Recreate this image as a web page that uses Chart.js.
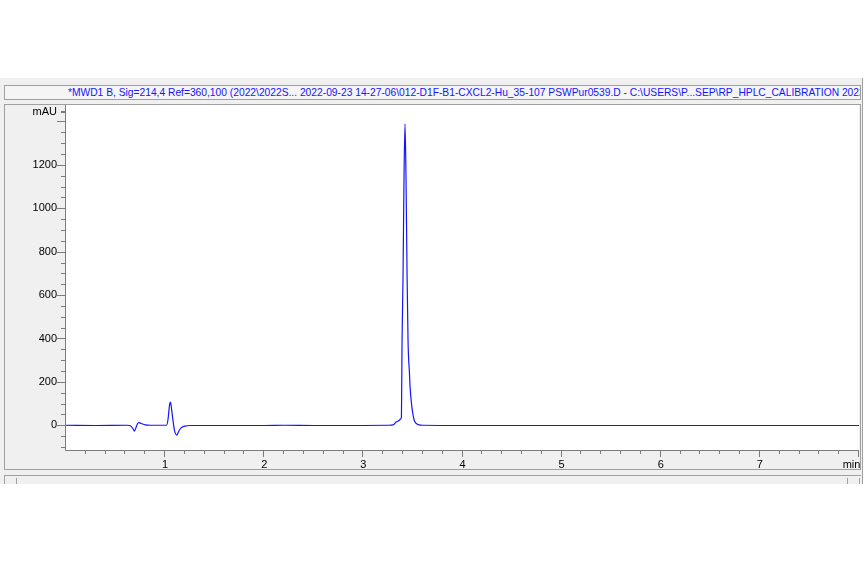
<!DOCTYPE html>
<html>
<head>
<meta charset="utf-8">
<script src="https://cdn.jsdelivr.net/npm/chart.js@4.4.0/dist/chart.umd.min.js"></script>
<style>
  body { margin: 0; background: #fff; width: 868px; height: 564px; overflow: hidden; position: relative;
         font-family: "Liberation Sans", Arial, sans-serif; }
  #frame { position: absolute; left: 0; top: 78px; width: 862px; height: 406px; background: #f0f0f0;
           border-right: 1px solid #a0a0a0; overflow: hidden; }
  #titlebox { position: absolute; left: 4px; top: 7px; width: 855px; height: 13px; background: #f5f5f5;
              border: 1px solid #a0a0a0; overflow: hidden; }
  #title { position: absolute; left: 63px; top: 0; white-space: nowrap; color: #1414ff; font-size: 10.25px; line-height: 14px; }
  #plotpanel { position: absolute; left: 4px; top: 26px; width: 855px; height: 364px; border: 1px solid #a0a0a0; }
  #nextpanel { position: absolute; left: 4px; top: 397px; width: 856px; height: 20px;
               border-top: 1px solid #a0a0a0; border-left: 1px solid #a0a0a0; }
  #nextpanel .v { position: absolute; top: 2px; width: 1px; height: 20px; background: #a0a0a0; }
  #chart { position: absolute; left: 0; top: 0; }
</style>
</head>
<body>
<div id="frame">
  <div id="titlebox"><span id="title">*MWD1 B, Sig=214,4 Ref=360,100 (2022\2022S... 2022-09-23 14-27-06\012-D1F-B1-CXCL2-Hu_35-107 PSWPur0539.D - C:\USERS\P...SEP\RP_HPLC_CALIBRATION 2022-09-23 14-27-06</span></div>
  <div id="plotpanel"></div>
  <div id="nextpanel"><div class="v" style="left:11px"></div><div class="v" style="left:842px"></div><div class="v" style="left:854px"></div></div>
</div>
<canvas id="chart" width="868" height="564"></canvas>
<script>
// retention time (min) and signal (mAU)
var times = [0.00, 0.30, 0.62, 0.65, 0.675, 0.69, 0.705, 0.72, 0.735, 0.76, 0.80, 0.85,
             1.015, 1.03, 1.045, 1.054, 1.065, 1.08, 1.095, 1.118, 1.135, 1.16, 1.20, 1.25,
             1.50, 2.00, 2.20, 2.50, 3.00, 3.25, 3.30, 3.33, 3.36, 3.375, 3.384, 3.390,
             3.400, 3.410, 3.420, 3.430, 3.441, 3.451, 3.465, 3.471, 3.485, 3.498, 3.518,
             3.562, 3.60, 4.00, 5.00, 6.00, 7.00, 8.00];
var signal = [0, -1, 0, -2, -15, -27, -12, 6, 12, 8, 2, 0,
              0, 30, 95, 107, 75, 20, -25, -45, -30, -12, -4, -1,
              -1, -1, 0, -1, -1, 0, 2, 15, 22, 28, 40, 379,
              684, 1144, 1389, 1144, 684, 379, 240, 178, 102, 56, 17,
              2, 0, -1, -1, -1, -1, -1];

var xMajorTicks = [1, 2, 3, 4, 5, 6, 7];
var xUnit = "min";
var yMajorTicks = [0, 200, 400, 600, 800, 1000, 1200];
var yUnit = "mAU";

var X_MIN = 0, X_MAX = 8.0, Y_MIN = -114, Y_MAX = 1476;
var X_UNIT_POS = 7.925, Y_UNIT_POS = 1443;

var points = [];
for (var i = 0; i < times.length; i++) {
    points.push({x: times[i], y: signal[i]});
}

var axisColor = "#7c7c7c";

// white plot area, axis lines and major/minor tick marks
var hplcFrame = {
    id: "hplcFrame",
    beforeDraw: function (chart) {
        var a = chart.chartArea, ctx = chart.ctx;
        ctx.save();
        ctx.fillStyle = "#ffffff";
        ctx.fillRect(a.left, a.top, a.right - a.left, a.bottom - a.top);
        ctx.restore();
    },
    afterDraw: function (chart) {
        var a = chart.chartArea, ctx = chart.ctx;
        var xs = chart.scales.x, ys = chart.scales.y;
        ctx.save();
        ctx.strokeStyle = axisColor;
        ctx.lineWidth = 1;
        ctx.beginPath();
        ctx.moveTo(a.left - 0.5, a.top);
        ctx.lineTo(a.left - 0.5, a.bottom + 0.5);
        ctx.lineTo(a.right, a.bottom + 0.5);
        ctx.stroke();

        ctx.beginPath();
        for (var k = 1; k <= 40; k++) {
            var px = Math.round(xs.getPixelForValue(k * 0.2)) - 0.5;
            var len = (k % 5 === 0) ? 7 : 4;
            ctx.moveTo(px, a.bottom);
            ctx.lineTo(px, a.bottom + len);
        }
        for (var v = -100; v <= 1450; v += 50) {
            var py = Math.round(ys.getPixelForValue(v)) + 0.5;
            var l = (v % 200 === 0) ? 8 : 4;
            ctx.moveTo(a.left - 1, py);
            ctx.lineTo(a.left - 1 - l, py);
        }
        var pu = Math.round(ys.getPixelForValue(Y_UNIT_POS)) + 0.5;
        ctx.moveTo(a.left - 1, pu);
        ctx.lineTo(a.left - 5, pu);
        ctx.stroke();
        ctx.restore();
    }
};

new Chart(document.getElementById("chart"), {
    type: "line",
    data: {
        datasets: [{
            label: "MWD1 B",
            data: points,
            borderColor: "rgb(20, 20, 255)",
            borderWidth: 1.2,
            pointRadius: 0,
            fill: false,
            cubicInterpolationMode: "monotone"
        }]
    },
    options: {
        responsive: false,
        animation: false,
        events: [],
        layout: {padding: {left: 4, top: 105, right: 9, bottom: 95}},
        plugins: {legend: {display: false}, tooltip: {enabled: false}},
        scales: {
            x: {
                type: "linear",
                min: X_MIN,
                max: X_MAX,
                grid: {display: false, drawTicks: false},
                border: {display: false},
                afterBuildTicks: function (scale) {
                    scale.ticks = xMajorTicks.map(function (t) { return {value: t}; })
                        .concat([{value: X_UNIT_POS}]);
                },
                afterFit: function (scale) {
                    scale.height = 19;
                    scale.paddingLeft = 0; scale.paddingRight = 0;
                    scale.paddingTop = 0; scale.paddingBottom = 0;
                },
                ticks: {
                    autoSkip: false,
                    maxRotation: 0,
                    padding: 8,
                    color: "#000",
                    font: {family: "'Liberation Sans', Arial, sans-serif", size: 11},
                    callback: function (value) {
                        return value === X_UNIT_POS ? xUnit : String(value);
                    }
                }
            },
            y: {
                type: "linear",
                min: Y_MIN,
                max: Y_MAX,
                grid: {display: false, drawTicks: false},
                border: {display: false},
                afterBuildTicks: function (scale) {
                    scale.ticks = yMajorTicks.map(function (t) { return {value: t}; })
                        .concat([{value: Y_UNIT_POS}]);
                },
                afterFit: function (scale) {
                    scale.width = 62;
                    scale.paddingLeft = 0; scale.paddingRight = 0;
                    scale.paddingTop = 0; scale.paddingBottom = 0;
                },
                ticks: {
                    autoSkip: false,
                    padding: 9,
                    color: "#000",
                    font: {family: "'Liberation Sans', Arial, sans-serif", size: 11},
                    callback: function (value) {
                        return value === Y_UNIT_POS ? yUnit : String(value);
                    }
                }
            }
        }
    },
    plugins: [hplcFrame]
});
</script>
</body>
</html>
